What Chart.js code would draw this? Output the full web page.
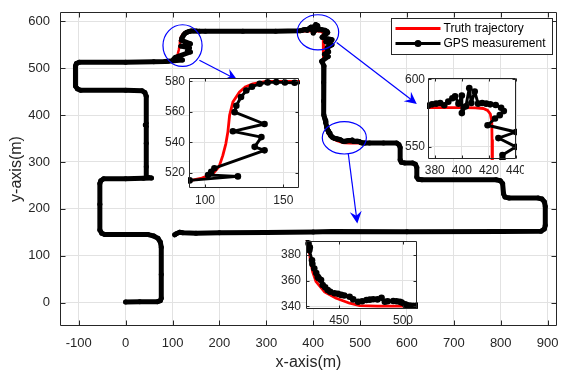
<!DOCTYPE html>
<html>
<head>
<meta charset="utf-8">
<script src="https://cdn.jsdelivr.net/npm/chart.js@4.4.1/dist/chart.umd.min.js"></script>
<style>
  html, body { margin: 0; padding: 0; background: #fff; }
  #wrap { position: relative; width: 561px; height: 376px; overflow: hidden; }
  #wrap canvas { position: absolute; }
</style>
</head>
<body>
<div id="wrap">
  <canvas id="main"></canvas>
  <canvas id="in1"></canvas>
  <canvas id="in2"></canvas>
  <canvas id="in3"></canvas>
</div>
<script>
'use strict';

/* ── ticks ── */
const xTicks = [-100, 0, 100, 200, 300, 400, 500, 600, 700, 800, 900];
const yTicks = [0, 100, 200, 300, 400, 500, 600];
const in1XTicks = [100, 150];
const in1YTicks = [520, 540, 560, 580];
const in2XTicks = [380, 400, 420, 440];
const in2YTicks = [550, 600];
const in3XTicks = [450, 500];
const in3YTicks = [340, 360, 380];

/* ── path pieces, [x, y] in metres ── */
// shared by both series (truth hidden under the GPS track here)
const legStart = [[0,1],[30,2],[68,2],[74,4],[76,9],[76,60],[76,118],[74,129],[69,137],[60,142],[48,145],[0,145],[-44,145],[-51,148],[-55,155],[-55,210],[-55,254],[-53,260],[-47,264],[0,264],[38,265],[55,266],[44,268],[44,290],[44,340],[44,376],[42,379],[44,382],[44,440],[41,448],[35,452],[0,453],[-96,453],[-103,456],[-107,462],[-107,505],[-105,510],[-99,513],[0,513],[60,514],[84,514.5]];
const legTop = [[170,579],[250,579],[320,579],[372,580]];
const legEnd = [[520,340.5],[550,340.5],[578,340.6],[583,337],[585.5,331],[585.5,305],[588,299.5],[595,298],[612,298],[618,295],[621,288],[621,268],[624,263],[632,262],[790,262],[799,260],[804,254],[806,232],[809,225],[818,223],[880,223],[888,221],[893,215],[895,205],[895,165],[893,157],[886,152],[800,151.5],[600,151],[440,151.5],[400,150.5],[300,149.5],[200,149],[150,148],[122,149],[115,150],[108,147],[104.7,144.6]];

// GPS around the three zoomed spots
const gpsTurn1 = [[90.2,515],[121,517.6],[102,518.5],[104,520.7],[106,523],[138,534.7],[131.7,537],[136,543.4],[117.8,547.2],[138,552],[118.9,559.8],[120,564],[123,569.7],[126.4,574],[130,576.5],[134.9,578.4],[140,579.3],[145.5,579.5],[151,579.2],[157.2,579.1]];
const gpsTurn2 = [[375,580.5],[378,581.5],[381,582],[384,582.5],[387,580.8],[390,583.5],[393,586],[395,587.5],[397.5,582],[400,588],[400,575],[403,580],[405.5,593.5],[407,582.5],[409.5,591],[412,582],[415,582.5],[418,582],[421,581.5],[425,581],[429,579],[431,576.5],[428,573.5],[424.5,571],[419,566],[440,561],[427,556.5],[440,550],[430,544],[430,541]];
const gpsDrop = [[433,535],[424,530],[432,525],[418,515],[423,505],[422,470],[422,430],[423,400],[424.5,394]];
const gpsTurn3 = [[426,389],[427,386],[426.6,383.8],[428.7,376],[429,373],[430.5,369.6],[432,366],[433.2,363],[434,362],[435.8,360.6],[437.1,356.7],[439,355],[441,352.8],[443,351.5],[446.3,350.3],[449,349.8],[451.6,349],[454,348.5],[458.2,347.6],[461,345.5],[464.8,343.7],[468,344],[471.4,345],[474,345.3],[476.7,345.6],[480,345.5],[483.2,346.8],[485.8,343.7],[488,344],[492.4,344.2],[495,344],[497.6,343.7],[499,343],[501.6,341.7],[503,341],[505.5,340.6],[508,340.5],[510.8,340.6]];

// truth around the same spots
const truthTurn1 = [[91.3,515],[98,516.5],[105,519.3],[109,524],[111.4,531.4],[113.3,539],[114.6,546.7],[115.7,557.7],[117.8,566.4],[122,573],[126,576.5],[130.6,578.4],[139,580],[160,580]];
const truthTurn2 = [[375,579],[400,579],[410,578.8],[415.9,578.4],[419,577],[421,574.5],[422.1,568.9],[422.3,555],[422.3,500],[422.5,440],[423,400],[424.5,393]];
const truthTurn3 = [[426,387.7],[427.3,377],[429.2,367],[431.9,359.3],[438.4,351.5],[447.7,346.4],[458.2,342.5],[466.1,340.6],[480,340.2],[502.9,340.2],[512,340.3]];

const gpsPath = [...legStart, ...gpsTurn1, ...legTop, ...gpsTurn2, ...gpsDrop, ...gpsTurn3, ...legEnd];
const truthPath = [...legStart, ...truthTurn1, ...legTop, ...truthTurn2, ...truthTurn3, ...legEnd];

/* ── annotations (data units) ── */
const zoomCircles = [[121.3, 548.3, 41.7, 44.5], [410.2, 576.7, 44.2, 37.4], [466.4, 351.6, 47, 34.6]];
const zoomArrows  = [[157.3, 516.9, 237.8, 475.2], [450.1, 555, 621, 423.9], [474.9, 317, 494.1, 168.9]];

/* ── style ── */
const TXT = '#262626', AXIS = '#262626', GRID = '#e2e2e2', BLUE = '#0000ff';
const FONT = "'Liberation Sans', Arial, Helvetica, sans-serif";

const toXY = arr => arr.map(([x, y]) => ({ x, y }));

/* ══════════════ PLUGINS ══════════════ */
const framePlugin = {
  id: 'frame',
  beforeDraw(chart, args, opts) {
    const { ctx, chartArea: a } = chart;
    ctx.save();
    ctx.fillStyle = '#fff';
    if (opts.fillAll) ctx.fillRect(0, 0, chart.width, chart.height);
    else ctx.fillRect(a.left, a.top, a.right - a.left, a.bottom - a.top);
    ctx.restore();
  },
  afterDatasetsDraw(chart, args, opts) {
    const { ctx, chartArea: a, scales: { x, y } } = chart;
    const L = a.left + 0.5, R = a.right - 0.5, T = a.top + 0.5, B = a.bottom - 0.5, t = opts.tick;
    ctx.save();
    ctx.strokeStyle = AXIS; ctx.lineWidth = 1;
    ctx.beginPath();
    ctx.rect(L, T, R - L, B - T);
    x.ticks.forEach(k => {
      const p = Math.round(x.getPixelForValue(k.value)) + 0.5;
      ctx.moveTo(p, B); ctx.lineTo(p, B - t);
      ctx.moveTo(p, T); ctx.lineTo(p, T + t);
    });
    y.ticks.forEach(k => {
      const p = Math.round(y.getPixelForValue(k.value)) + 0.5;
      ctx.moveTo(L, p); ctx.lineTo(L + t, p);
      ctx.moveTo(R, p); ctx.lineTo(R - t, p);
    });
    ctx.stroke();
    ctx.restore();
  }
};

const zoomMarks = {
  id: 'zoomMarks',
  afterDatasetsDraw(chart) {
    const { ctx, scales: { x, y } } = chart;
    ctx.save();
    ctx.strokeStyle = BLUE; ctx.fillStyle = BLUE; ctx.lineWidth = 1.2;
    zoomCircles.forEach(([cx, cy, rx, ry]) => {
      const px = x.getPixelForValue(cx), py = y.getPixelForValue(cy);
      const rpx = Math.abs(x.getPixelForValue(cx + rx) - px);
      const rpy = Math.abs(y.getPixelForValue(cy + ry) - py);
      ctx.beginPath(); ctx.ellipse(px, py, rpx, rpy, 0, 0, 2 * Math.PI); ctx.stroke();
    });
    zoomArrows.forEach(([x1, y1, x2, y2]) => {
      const ax = x.getPixelForValue(x1), ay = y.getPixelForValue(y1);
      const bx = x.getPixelForValue(x2), by = y.getPixelForValue(y2);
      const len = Math.hypot(bx - ax, by - ay), ux = (bx - ax) / len, uy = (by - ay) / len;
      const HL = 12, HW = 6;
      ctx.beginPath(); ctx.moveTo(ax, ay); ctx.lineTo(bx - ux * HL * 0.6, by - uy * HL * 0.6); ctx.stroke();
      ctx.beginPath();
      ctx.moveTo(bx, by);
      ctx.lineTo(bx - ux * HL - uy * HW, by - uy * HL + ux * HW);
      ctx.lineTo(bx - ux * HL * 0.65, by - uy * HL * 0.65);
      ctx.lineTo(bx - ux * HL + uy * HW, by - uy * HL - ux * HW);
      ctx.closePath(); ctx.fill();
    });
    ctx.restore();
  }
};

const legendBox = {
  id: 'legendBox',
  afterDraw(chart) {
    const { ctx, chartArea: a } = chart;
    const items = [chart.data.datasets[1], chart.data.datasets[0]];
    const bx = a.right - 166 + 0.5, by = a.top + 6 + 0.5, bw = 161, bh = 36;
    ctx.save();
    ctx.fillStyle = '#fff'; ctx.fillRect(bx, by, bw, bh);
    ctx.strokeStyle = AXIS; ctx.lineWidth = 1; ctx.strokeRect(bx, by, bw, bh);
    ctx.font = '12px ' + FONT; ctx.textBaseline = 'middle';
    items.forEach((d, i) => {
      const yy = by + 10 + i * 15;
      ctx.strokeStyle = d.borderColor; ctx.lineWidth = 3;
      ctx.beginPath(); ctx.moveTo(bx + 4, yy); ctx.lineTo(bx + 49, yy); ctx.stroke();
      if (d.pointRadius) {
        ctx.fillStyle = d.borderColor;
        ctx.beginPath(); ctx.arc(bx + 26.5, yy, 3.5, 0, 2 * Math.PI); ctx.fill();
      }
      ctx.fillStyle = '#000';
      ctx.fillText(d.label, bx + 52, yy + 0.5);
    });
    ctx.restore();
  }
};

/* ══════════════ CHART BUILDER ══════════════ */
function plot(id, o) {
  const cv = document.getElementById(id);
  cv.width = o.w; cv.height = o.h;
  cv.style.left = o.left + 'px'; cv.style.top = o.top + 'px';
  const tickFont = { family: FONT, size: o.font };
  const axis = (range, ticks, pad, fit, title) => ({
    type: 'linear', min: range[0], max: range[1],
    afterBuildTicks: s => { s.ticks = ticks.map(v => ({ value: v })); },
    afterFit: s => { fit(s); s.paddingLeft = s.paddingRight = s.paddingTop = s.paddingBottom = 0; },
    grid: { color: GRID, lineWidth: 1, drawTicks: false },
    border: { display: false },
    ticks: { color: TXT, font: tickFont, padding: pad, autoSkip: false, maxRotation: 0, minRotation: 0, callback: v => v },
    title: title || { display: false }
  });
  return new Chart(cv, {
    type: 'scatter',
    data: {
      datasets: [
        { label: 'GPS measurement', data: toXY(gpsPath), showLine: true, order: 1,
          borderColor: '#000', backgroundColor: '#000', pointBackgroundColor: '#000',
          borderWidth: o.lw, pointRadius: o.pr, pointBorderWidth: 0,
          borderJoinStyle: 'round', borderCapStyle: 'round', clip: o.clip },
        { label: 'Truth trajectory', data: toXY(truthPath), showLine: true, order: 2,
          borderColor: '#ff0000', backgroundColor: '#ff0000',
          borderWidth: o.rw, pointRadius: 0,
          borderJoinStyle: 'round', borderCapStyle: 'round', clip: o.clip }
      ]
    },
    options: {
      responsive: false, animation: false, events: [], devicePixelRatio: 1,
      layout: { padding: o.pad },
      plugins: { legend: { display: false }, tooltip: { enabled: false }, frame: { tick: o.tick, fillAll: !!o.fillAll } },
      scales: {
        x: axis(o.xr, o.xt, o.xPad, s => { s.height = o.xH; }, o.xTitle),
        y: axis(o.yr, o.yt, o.yPad, s => { s.width = o.yW; }, o.yTitle)
      }
    },
    plugins: [framePlugin, ...(o.extra || [])]
  });
}

/* ══════════════ MAIN ══════════════ */
plot('main', {
  left: 0, top: 0, w: 561, h: 376,
  pad: { top: 12, right: 4, left: 0, bottom: 0 }, yW: 60, xH: 50,
  xr: [-140, 920], yr: [-50, 620], xt: xTicks, yt: yTicks,
  font: 13, xPad: 10, yPad: 10, lw: 5, pr: 2.5, rw: 2.5, tick: 5, clip: false, fillAll: true,
  xTitle: { display: true, text: 'x-axis(m)', color: TXT, font: { family: FONT, size: 16 }, padding: { top: 0, bottom: 4 } },
  yTitle: { display: true, text: 'y-axis(m)', color: TXT, font: { family: FONT, size: 16 }, padding: { top: 7, bottom: 0 } },
  extra: [zoomMarks, legendBox]
});

/* ══════════════ INSETS ══════════════ */
function inset(id, box, xr, yr, xt, yt, xPad, yPad) {
  const [l, t, w, h] = box;
  plot(id, {
    left: l - 40, top: t - 8, w: w + 48, h: h + 30,
    pad: { top: 8, right: 8, left: 0, bottom: 0 }, yW: 40, xH: 22,
    xr, yr, xt, yt, font: 12, xPad, yPad, lw: 2.9, pr: 3.3, rw: 2.8, tick: 3, clip: 1
  });
}
inset('in1', [189, 78, 110, 110], [89.8, 160], [510, 582.2], in1XTicks, in1YTicks, 5, 4);
inset('in2', [428, 78, 88, 81], [375, 440], [541, 601], in2XTicks, in2YTicks, 4, 3);
inset('in3', [306, 241, 111, 68], [424, 511], [338, 391], in3XTicks, in3YTicks, 4, 5);
</script>
</body>
</html>
